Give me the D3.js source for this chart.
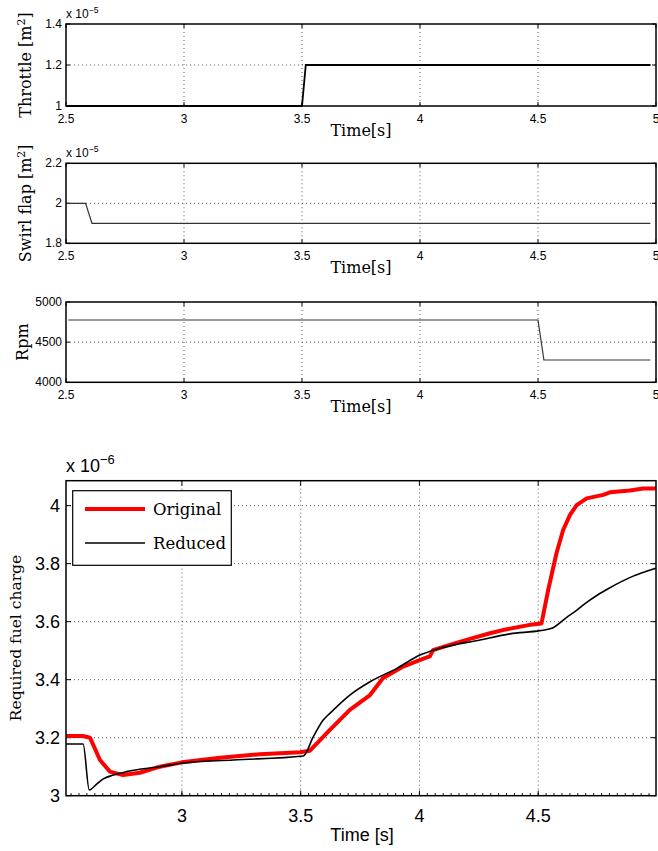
<!DOCTYPE html>
<html>
<head>
<meta charset="utf-8">
<script src="https://cdn.jsdelivr.net/npm/d3@7"></script>
<style>
  html, body { margin: 0; padding: 0; background: #fff; }
  svg { display: block; }
  .tick-label { font-family: "Liberation Sans", Arial, sans-serif; fill: #000; }
  .serif { font-family: "DejaVu Serif", "Liberation Serif", serif; fill: #000; }
</style>
</head>
<body>
<svg id="chart" width="658" height="851"></svg>
<script>
// ---- Input signals (areas in units of 1e-5 m^2) ----
const throttleTime = [2.5, 3.5, 3.516, 4.976];
const throttleArea = [1.0, 1.0, 1.2, 1.2];

const swirlTime = [2.5, 2.583, 2.61, 4.976];
const swirlArea = [2.0, 2.0, 1.9, 1.9];

const rpmTime = [2.51, 4.5, 4.525, 4.976];
const rpmValue = [4776, 4776, 4278, 4278];

// ---- Required fuel charge (units of 1e-6) ----
const originalTime = [2.512, 2.583, 2.613, 2.655, 2.697, 2.752, 2.823, 2.907, 3.0, 3.16, 3.328,
  3.497, 3.539, 3.623, 3.707, 3.792, 3.846, 3.931, 4.023, 4.044, 4.057, 4.128, 4.198, 4.297,
  4.351, 4.465, 4.514, 4.542, 4.577, 4.605, 4.634, 4.662, 4.704, 4.774, 4.802, 4.886, 4.942, 4.996];
const originalCharge = [3.206, 3.206, 3.200, 3.123, 3.083, 3.071, 3.079, 3.100, 3.115, 3.131, 3.143,
  3.150, 3.155, 3.227, 3.296, 3.347, 3.405, 3.445, 3.474, 3.480, 3.502, 3.520, 3.537, 3.560,
  3.571, 3.589, 3.594, 3.709, 3.836, 3.916, 3.968, 4.002, 4.025, 4.037, 4.046, 4.052, 4.059, 4.059];

const reducedTime = [2.512, 2.584, 2.61, 2.641, 2.669, 2.711, 2.767, 2.907, 2.999, 3.216, 3.511,
  3.553, 3.595, 3.623, 3.707, 3.792, 3.905, 4.002, 4.086, 4.255, 4.381, 4.507, 4.557, 4.62,
  4.66, 4.70, 4.75, 4.80, 4.85, 4.90, 4.95, 4.996];
const reducedCharge = [3.178, 3.178, 3.020, 3.040, 3.058, 3.071, 3.083, 3.100, 3.112, 3.123, 3.137,
  3.203, 3.261, 3.284, 3.347, 3.393, 3.439, 3.485, 3.508, 3.537, 3.558, 3.569, 3.577, 3.615,
  3.638, 3.664, 3.692, 3.716, 3.738, 3.757, 3.772, 3.784];

// ---- Tick definitions ----
const smallXTicks = [2.5, 3, 3.5, 4, 4.5, 5];
const smallXTickLabels = ["2.5", "3", "3.5", "4", "4.5", "5"];
const throttleTicks = [1, 1.2, 1.4];
const throttleTickLabels = ["1", "1.2", "1.4"];
const swirlTicks = [1.8, 2, 2.2];
const swirlTickLabels = ["1.8", "2", "2.2"];
const rpmTicks = [4000, 4500, 5000];
const rpmTickLabels = ["4000", "4500", "5000"];

const fuelXTicks = [3, 3.5, 4, 4.5];
const fuelXTickLabels = ["3", "3.5", "4", "4.5"];
const fuelYTicks = [3, 3.2, 3.4, 3.6, 3.8, 4];
const fuelYTickLabels = ["3", "3.2", "3.4", "3.6", "3.8", "4"];

const svg = d3.select("#chart");
const left = 66, right = 656;

function toPoints(t, v) { return t.map((d, i) => [d, v[i]]); }

// Draws a boxed axes with inward ticks on all four sides and dotted grid lines
function drawBox(g, x, y, xt, xl, yt, yl, opts) {
  const [x0, x1] = x.range();
  const [y0, y1] = y.range(); // y0 = bottom, y1 = top
  const tl = opts.tickLen;
  // grid
  g.append("g").selectAll("line").data(xt.filter(v => x(v) > x0 + 1 && x(v) < x1 - 1)).join("line")
    .attr("x1", d => x(d)).attr("x2", d => x(d)).attr("y1", y1).attr("y2", y0)
    .attr("stroke", "#333").attr("stroke-width", 0.8).attr("stroke-dasharray", "1,3");
  g.append("g").selectAll("line").data(yt.filter(v => y(v) < y0 - 1 && y(v) > y1 + 1)).join("line")
    .attr("y1", d => y(d)).attr("y2", d => y(d)).attr("x1", x0).attr("x2", x1)
    .attr("stroke", "#333").attr("stroke-width", 0.8).attr("stroke-dasharray", "1,3");
  // ticks
  const tg = g.append("g").attr("stroke", "#000").attr("stroke-width", 1);
  xt.forEach(v => {
    tg.append("line").attr("x1", x(v)).attr("x2", x(v)).attr("y1", y0).attr("y2", y0 - tl);
    tg.append("line").attr("x1", x(v)).attr("x2", x(v)).attr("y1", y1).attr("y2", y1 + tl);
  });
  yt.forEach(v => {
    tg.append("line").attr("y1", y(v)).attr("y2", y(v)).attr("x1", x0).attr("x2", x0 + tl);
    tg.append("line").attr("y1", y(v)).attr("y2", y(v)).attr("x1", x1).attr("x2", x1 - tl);
  });
  // tick labels
  g.append("g").selectAll("text").data(xt).join("text").attr("class", "tick-label")
    .attr("x", d => x(d)).attr("y", y0 + opts.xLabelDy)
    .attr("text-anchor", "middle").attr("font-size", opts.tickFont)
    .text((d, i) => xl[i]);
  g.append("g").selectAll("text").data(yt).join("text").attr("class", "tick-label")
    .attr("x", x0 - opts.yLabelDx).attr("y", d => y(d))
    .attr("dy", opts.yDy).attr("text-anchor", "end").attr("font-size", opts.tickFont)
    .text((d, i) => yl[i]);
}

function drawFrame(g, x, y) {
  const [x0, x1] = x.range();
  const [y0, y1] = y.range();
  g.append("rect").attr("x", x0).attr("y", y1).attr("width", x1 - x0).attr("height", y0 - y1)
    .attr("fill", "none").attr("stroke", "#000").attr("stroke-width", 1.5);
}

function exponentLabel(g, xPos, yPos, exp, size) {
  const t = g.append("text").attr("class", "tick-label").attr("x", xPos).attr("y", yPos)
    .attr("font-size", size);
  t.append("tspan").text("x 10");
  t.append("tspan").attr("dy", -size * 0.45).attr("font-size", size * 0.72).text(exp);
}

// ---- Three small input panels ----
const panels = [
  { top: 24, bottom: 106, domain: [1, 1.4], ticks: throttleTicks, labels: throttleTickLabels,
    t: throttleTime, v: throttleArea, exp: "\u22125", color: "#000", width: 1.8,
    ylabel: ["Throttle [m", "2", "]"] },
  { top: 163.3, bottom: 243.3, domain: [1.8, 2.2], ticks: swirlTicks, labels: swirlTickLabels,
    t: swirlTime, v: swirlArea, exp: "\u22125", color: "#333", width: 1.2,
    ylabel: ["Swirl flap [m", "2", "]"] },
  { top: 302, bottom: 382.3, domain: [4000, 5000], ticks: rpmTicks, labels: rpmTickLabels,
    t: rpmTime, v: rpmValue, exp: null, color: "#333", width: 1.2,
    ylabel: ["Rpm"] }
];

panels.forEach(p => {
  const g = svg.append("g");
  const x = d3.scaleLinear().domain([2.5, 5]).range([left, right]);
  const y = d3.scaleLinear().domain(p.domain).range([p.bottom, p.top]);
  drawBox(g, x, y, smallXTicks, smallXTickLabels, p.ticks, p.labels,
    { tickLen: 4, tickFont: 12, xLabelDy: 17, yLabelDx: 4, yDy: "0.3em" });
  g.append("path").datum(toPoints(p.t, p.v))
    .attr("d", d3.line().x(d => x(d[0])).y(d => y(d[1])))
    .attr("fill", "none").attr("stroke", p.color).attr("stroke-width", p.width);
  drawFrame(g, x, y);
  if (p.exp) exponentLabel(g, left, p.top - 6, p.exp, 12);
  // x axis title
  g.append("text").attr("class", "serif").attr("x", 361).attr("y", p.bottom + 30)
    .attr("text-anchor", "middle").attr("font-size", 16).text("Time[s]");
  // y axis title
  const cy = (p.top + p.bottom) / 2;
  const yt = g.append("text").attr("class", "serif")
    .attr("transform", `translate(${p.ylabel.length > 1 ? 31 : 28},${cy}) rotate(-90)`)
    .attr("text-anchor", "middle").attr("font-size", 16);
  yt.append("tspan").text(p.ylabel[0]);
  if (p.ylabel.length > 1) {
    yt.append("tspan").attr("dy", -6).attr("font-size", 11).text(p.ylabel[1]);
    yt.append("tspan").attr("dy", 6).text(p.ylabel[2]);
  }
});

// ---- Fuel charge comparison panel ----
{
  const top = 480.7, bottom = 795.7;
  const g = svg.append("g");
  const x = d3.scaleLinear().domain([2.512, 4.996]).range([left, right]);
  const y = d3.scaleLinear().domain([3.0, 4.086]).range([bottom, top]);
  drawBox(g, x, y, fuelXTicks, fuelXTickLabels, fuelYTicks, fuelYTickLabels,
    { tickLen: 5, tickFont: 18, xLabelDy: 26.5, yLabelDx: 6, yDy: "0.36em" });

  // minor ticks along the bottom edge
  const minor = d3.range(75, 151).map(i => i / 30).filter(v => v > 2.515 && v < 4.993);
  g.append("g").selectAll("line").data(minor).join("line")
    .attr("x1", d => x(d)).attr("x2", d => x(d)).attr("y1", bottom).attr("y2", bottom - 2.5)
    .attr("stroke", "#000").attr("stroke-width", 1);

  const line = d3.line().x(d => x(d[0])).y(d => y(d[1]));
  g.append("path").datum(toPoints(originalTime, originalCharge))
    .attr("d", line).attr("fill", "none").attr("stroke", "#ff0000")
    .attr("stroke-width", 4).attr("stroke-linejoin", "round");
  g.append("path").datum(toPoints(reducedTime, reducedCharge))
    .attr("d", line.curve(d3.curveMonotoneX)).attr("fill", "none").attr("stroke", "#000")
    .attr("stroke-width", 1.6);
  drawFrame(g, x, y);

  exponentLabel(g, left, 472, "\u22126", 18);

  g.append("text").attr("class", "tick-label").attr("x", 362).attr("y", 841)
    .attr("text-anchor", "middle").attr("font-size", 18).text("Time [s]");
  g.append("text").attr("class", "serif")
    .attr("transform", `translate(21,638) rotate(-90)`)
    .attr("text-anchor", "middle").attr("font-size", 15.5).text("Required fuel charge");

  // legend
  const lg = g.append("g");
  lg.append("rect").attr("x", 72.7).attr("y", 490.7).attr("width", 158.6).attr("height", 74.6)
    .attr("fill", "#fff").attr("stroke", "#000").attr("stroke-width", 1.2);
  const items = [
    { label: "Original", color: "#ff0000", width: 4, y: 509 },
    { label: "Reduced", color: "#000", width: 1.6, y: 543 }
  ];
  items.forEach(it => {
    lg.append("line").attr("x1", 85).attr("x2", 145).attr("y1", it.y).attr("y2", it.y)
      .attr("stroke", it.color).attr("stroke-width", it.width);
    lg.append("text").attr("class", "serif").attr("x", 153).attr("y", it.y)
      .attr("dy", "0.35em").attr("font-size", 16.5).text(it.label);
  });
}
</script>
</body>
</html>
